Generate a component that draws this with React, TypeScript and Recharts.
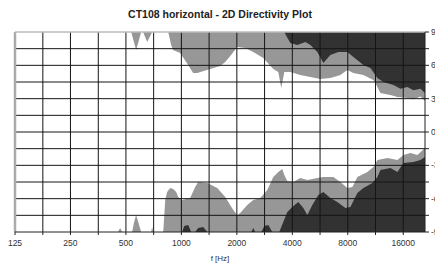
import React from 'react';
import { ComposedChart, Area, XAxis, YAxis, ReferenceLine } from 'recharts';

// Frequency ticks (half-octave grid) and labelled octaves
const freqTicks = [125, 177, 250, 354, 500, 707, 1000, 1414, 2000, 2828, 4000, 5657, 8000, 11314, 16000];
const freqLabels = [125, 250, 500, 1000, 2000, 4000, 8000, 16000];
const angleTicks = [-90, -75, -60, -45, -30, -15, 0, 15, 30, 45, 60, 75, 90];

// Upper side: lower edge of the grey (-6 dB) zone, [freq Hz, angle deg]
const grayTop: [number, number][] = [
  [125, 90], [534, 90], [568, 73.8], [605, 90], [620, 90], [652, 81], [694, 90], [848, 90],
  [880, 78.3], [902, 73.8], [985, 71.1], [1062, 63], [1159, 53.1], [1218, 53.1], [1434, 56.7],
  [1625, 59.4], [1730, 63], [1842, 68.4], [2010, 76.5], [2222, 75.6], [2456, 72], [2783, 66.6],
  [3154, 56.7], [3357, 54], [3485, 39.6], [3619, 54], [3901, 54], [4420, 51.3], [5010, 49.5],
  [5676, 47.7], [6435, 48.6], [7291, 51.3], [7958, 55.8], [8580, 53.1], [9727, 51.3],
  [11020, 46.8], [11586, 40.5], [12029, 35.1], [13630, 33.3], [14880, 31.5], [16860, 30.6],
  [18180, 29.5], [19840, 32], [21000, 28],
];

// Upper side: lower edge of the dark (-12 dB) zone
const darkTop: [number, number][] = [
  [125, 90], [3619, 90], [3665, 88.2], [3901, 80.1], [4257, 78.3], [4707, 81], [5010, 78.3],
  [5469, 72], [5896, 62.1], [6435, 69.3], [7111, 72], [7958, 72], [8580, 67.5], [9727, 60.3],
  [10615, 57.6], [11586, 48.6], [12490, 45], [14150, 42.3], [15450, 39], [16860, 40.5],
  [18180, 37.5], [19840, 39], [21000, 35],
];

// Lower side: upper edge of the grey zone
const grayBottom: [number, number][] = [
  [125, -90], [453, -90], [465, -86.4], [477, -90], [540, -90], [554, -81], [568, -74.7],
  [583, -81], [605, -90], [685, -90], [694, -85.5], [703, -90], [797, -90], [817, -61.2],
  [837, -54], [869, -50.4], [902, -51.3], [937, -54], [961, -58.5], [1010, -61.2], [1116, -59.4],
  [1188, -49.5], [1234, -45], [1381, -45.9], [1565, -50.4], [1730, -58.5], [1912, -70.2],
  [2010, -74.7], [2086, -72.9], [2278, -65.7], [2456, -61.2], [2680, -59.4], [2926, -52.2],
  [3154, -40.5], [3357, -36], [3529, -33.3], [3619, -38.7], [3757, -44.1], [4050, -45],
  [4420, -41.4], [4826, -43.2], [5469, -41.4], [5896, -40.5], [6680, -40.5], [7291, -45],
  [7958, -50.4], [8474, -49.5], [9020, -40.5], [10225, -36], [11020, -31.5], [11586, -25.2],
  [13130, -23.4], [14880, -25.2], [16040, -20.7], [17510, -18.9], [19110, -20.7], [21000, -14.4],
];

// Lower side: upper edge of the dark zone
const darkBottom: [number, number][] = [
  [125, -90], [1010, -90], [1036, -84.6], [1089, -83.7], [1130, -90], [1188, -90], [1234, -86.4],
  [1314, -85.5], [1381, -90], [2395, -90], [2456, -86.4], [2517, -90], [2714, -90], [2818, -84.6],
  [2963, -83.7], [3115, -90], [3399, -90], [3574, -81], [3757, -72], [4000, -67.5], [4311, -63],
  [4591, -68.4], [4826, -74.7], [5137, -65.7], [5537, -56.7], [5896, -54], [6435, -59.4],
  [7022, -63], [7764, -68.4], [8263, -67.5], [9020, -54.9], [9727, -50.4], [10883, -45.9],
  [11586, -40.5], [12029, -34.2], [13630, -32.4], [14880, -36], [16040, -27.9], [18180, -27],
  [19840, -25.2], [21000, -22.5],
];

const toRows = (arr: [number, number][]) => arr.map(([freq, angle]) => ({ freq, angle }));

const GRAY = '#979797';
const DARK = '#323232';
const GRID = '#151515';
const FONT = '"Liberation Sans", Arial, sans-serif';

export default function App() {
  return (
    <div style={{ position: 'absolute', left: 0, top: 0, width: 435, height: 266, background: '#fff' }}>
      <div
        style={{
          position: 'absolute', left: 0, top: 8, width: 440, textAlign: 'center',
          fontFamily: FONT, fontWeight: 'bold', fontSize: 10.5, color: '#222', lineHeight: '12px',
        }}
      >
        CT108 horizontal - 2D Directivity Plot
      </div>
      <ComposedChart width={435} height={266} margin={{ top: 32, right: 0, left: 15, bottom: 0 }}>
        <XAxis
          dataKey="freq"
          type="number"
          scale="log"
          domain={[125, 21000]}
          allowDataOverflow
          ticks={freqTicks}
          interval={0}
          height={34}
          tickSize={3}
          tickMargin={5}
          stroke="#222"
          tick={{ fontSize: 8.5, fill: '#333', fontFamily: FONT }}
          tickFormatter={(v: number) => (freqLabels.includes(v) ? String(v) : '')}
          label={{ value: 'f [Hz]', position: 'insideBottom', offset: 5, fontSize: 8, fill: '#333', fontFamily: FONT }}
        />
        <YAxis
          orientation="right"
          type="number"
          domain={[-90, 90]}
          allowDataOverflow
          ticks={angleTicks}
          interval={0}
          width={10}
          tickSize={4}
          tickMargin={2}
          stroke="#222"
          tick={{ fontSize: 8.5, fill: '#333', fontFamily: FONT }}
          tickFormatter={(v: number) => (v % 30 === 0 ? String(v) : '')}
        />
        <Area data={toRows(grayTop)} dataKey={(d: any) => [d.angle, 90]} type="linear" stroke="none" fill={GRAY} fillOpacity={1} isAnimationActive={false} />
        <Area data={toRows(darkTop)} dataKey={(d: any) => [d.angle, 90]} type="linear" stroke="none" fill={DARK} fillOpacity={1} isAnimationActive={false} />
        <Area data={toRows(grayBottom)} dataKey={(d: any) => [-90, d.angle]} type="linear" stroke="none" fill={GRAY} fillOpacity={1} isAnimationActive={false} />
        <Area data={toRows(darkBottom)} dataKey={(d: any) => [-90, d.angle]} type="linear" stroke="none" fill={DARK} fillOpacity={1} isAnimationActive={false} />
        {angleTicks.filter((a) => a > -90 && a < 90).map((a) => (
          <ReferenceLine key={'h' + a} y={a} stroke={GRID} strokeWidth={1} />
        ))}
        {freqTicks.filter((f) => f > 125).map((f) => (
          <ReferenceLine key={'v' + f} x={f} stroke={GRID} strokeWidth={1} />
        ))}
        <ReferenceLine x={125} stroke="#aaa" strokeWidth={2.5} />
        <ReferenceLine y={90} stroke="#bbb" strokeWidth={1.5} />
      </ComposedChart>
    </div>
  );
}
